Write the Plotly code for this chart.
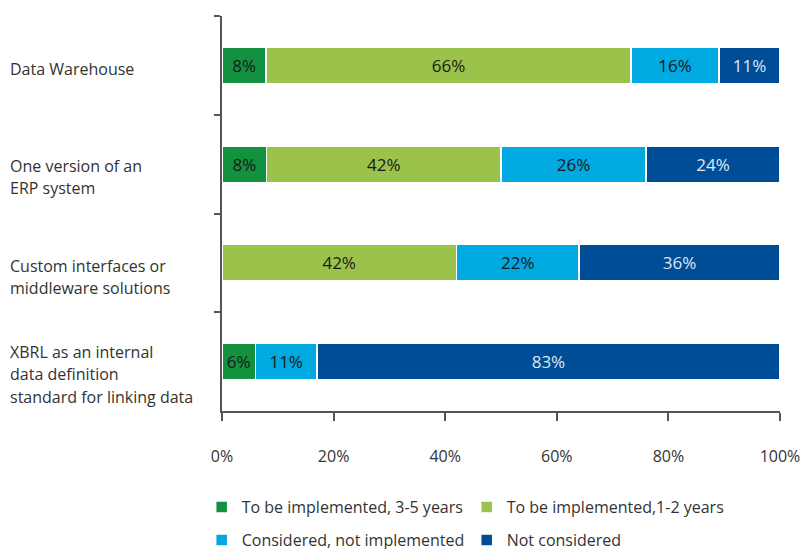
import plotly.graph_objects as go

# Categories (top to bottom) and survey shares per status
categories = [
    "Data Warehouse",
    "One version of an<br>ERP system",
    "Custom interfaces or<br>middleware solutions",
    "XBRL as an internal<br>data definition<br>standard for linking data",
]
impl_3_5 = [8, 8, None, 6]
impl_1_2 = [66, 42, 42, None]
considered = [16, 26, 22, 11]
not_considered = [11, 24, 36, 83]

series_names = [
    "To be implemented, 3-5 years",
    "To be implemented,1-2 years",
    "Considered, not implemented",
    "Not considered",
]
series_values = [impl_3_5, impl_1_2, considered, not_considered]
colors = ["#13913f", "#9bc34c", "#00a9e0", "#004d97"]
text_colors = ["#1a1a1a", "#1a1a1a", "#1a1a1a", "#dfe8f2"]
legend_ids = ["legend", "legend", "legend2", "legend2"]

x_ticks = [0, 20, 40, 60, 80, 100]
x_tick_labels = ["0%", "20%", "40%", "60%", "80%", "100%"]

FONT = "Open Sans, Noto Sans, sans-serif"

fig = go.Figure()
for name, vals, col, tcol, lg in zip(series_names, series_values, colors, text_colors, legend_ids):
    fig.add_trace(go.Bar(
        y=categories,
        x=vals,
        name=name,
        orientation="h",
        marker=dict(color=col, line=dict(color="white", width=1.5)),
        text=[f"{v}%" if v else "" for v in vals],
        texttemplate="%{text}",
        textposition="inside",
        insidetextanchor="middle",
        textangle=0,
        insidetextfont=dict(family=FONT, size=17, color=tcol),
        legend=lg,
        hoverinfo="skip",
    ))

# Category labels: left aligned at the chart's left edge, one annotation
# per line so the line spacing can be set explicitly
label_drop = [4, 13, 14, 12.5]   # downward offset of each label block (px)
line_step = 22.5                 # distance between label lines (px)
for cat, drop in zip(categories, label_drop):
    lines = cat.split("<br>")
    n = len(lines)
    for i, line in enumerate(lines):
        fig.add_annotation(
            x=0, xref="paper", xshift=-214, xanchor="left",
            y=cat, yref="y", yanchor="middle",
            yshift=-drop - (i - (n - 1) / 2) * line_step,
            text=line, align="left", showarrow=False,
            font=dict(family=FONT, size=16, color="#333333"),
        )

legend_common = dict(
    orientation="h",
    traceorder="normal",
    xref="container",
    xanchor="left",
    yref="container",
    yanchor="middle",
    entrywidth=220,
    entrywidthmode="pixels",
    font=dict(family=FONT, size=16, color="#333333"),
    bgcolor="rgba(0,0,0,0)",
    itemclick=False,
)

fig.update_layout(
    width=810,
    height=549,
    margin=dict(l=222, r=30, t=16, b=138, autoexpand=False),
    paper_bgcolor="white",
    plot_bgcolor="white",
    barmode="stack",
    barnorm="percent",
    bargap=0.63,
    font=dict(family=FONT, size=16, color="#333333"),
    legend=dict(x=0.249, y=0.0765, **legend_common),
    legend2=dict(x=0.249, y=0.0164, **legend_common),
    xaxis=dict(
        range=[0, 100],
        tickvals=x_ticks,
        ticktext=x_tick_labels,
        ticks="outside",
        ticklen=8,
        tickwidth=1.5,
        tickcolor="#555555",
        showline=True,
        linecolor="#555555",
        linewidth=1.5,
        showgrid=False,
        zeroline=False,
        ticklabelstandoff=22,
        tickfont=dict(family=FONT, size=16, color="#333333"),
        fixedrange=True,
    ),
    yaxis=dict(
        categoryorder="array",
        categoryarray=categories,
        range=[3.5, -0.5],
        showticklabels=False,
        ticks="outside",
        tickson="boundaries",
        ticklen=6,
        tickwidth=1.5,
        tickcolor="#555555",
        showline=True,
        linecolor="#555555",
        linewidth=1.5,
        showgrid=False,
        zeroline=False,
        fixedrange=True,
    ),
)

fig.write_html("out.html")
